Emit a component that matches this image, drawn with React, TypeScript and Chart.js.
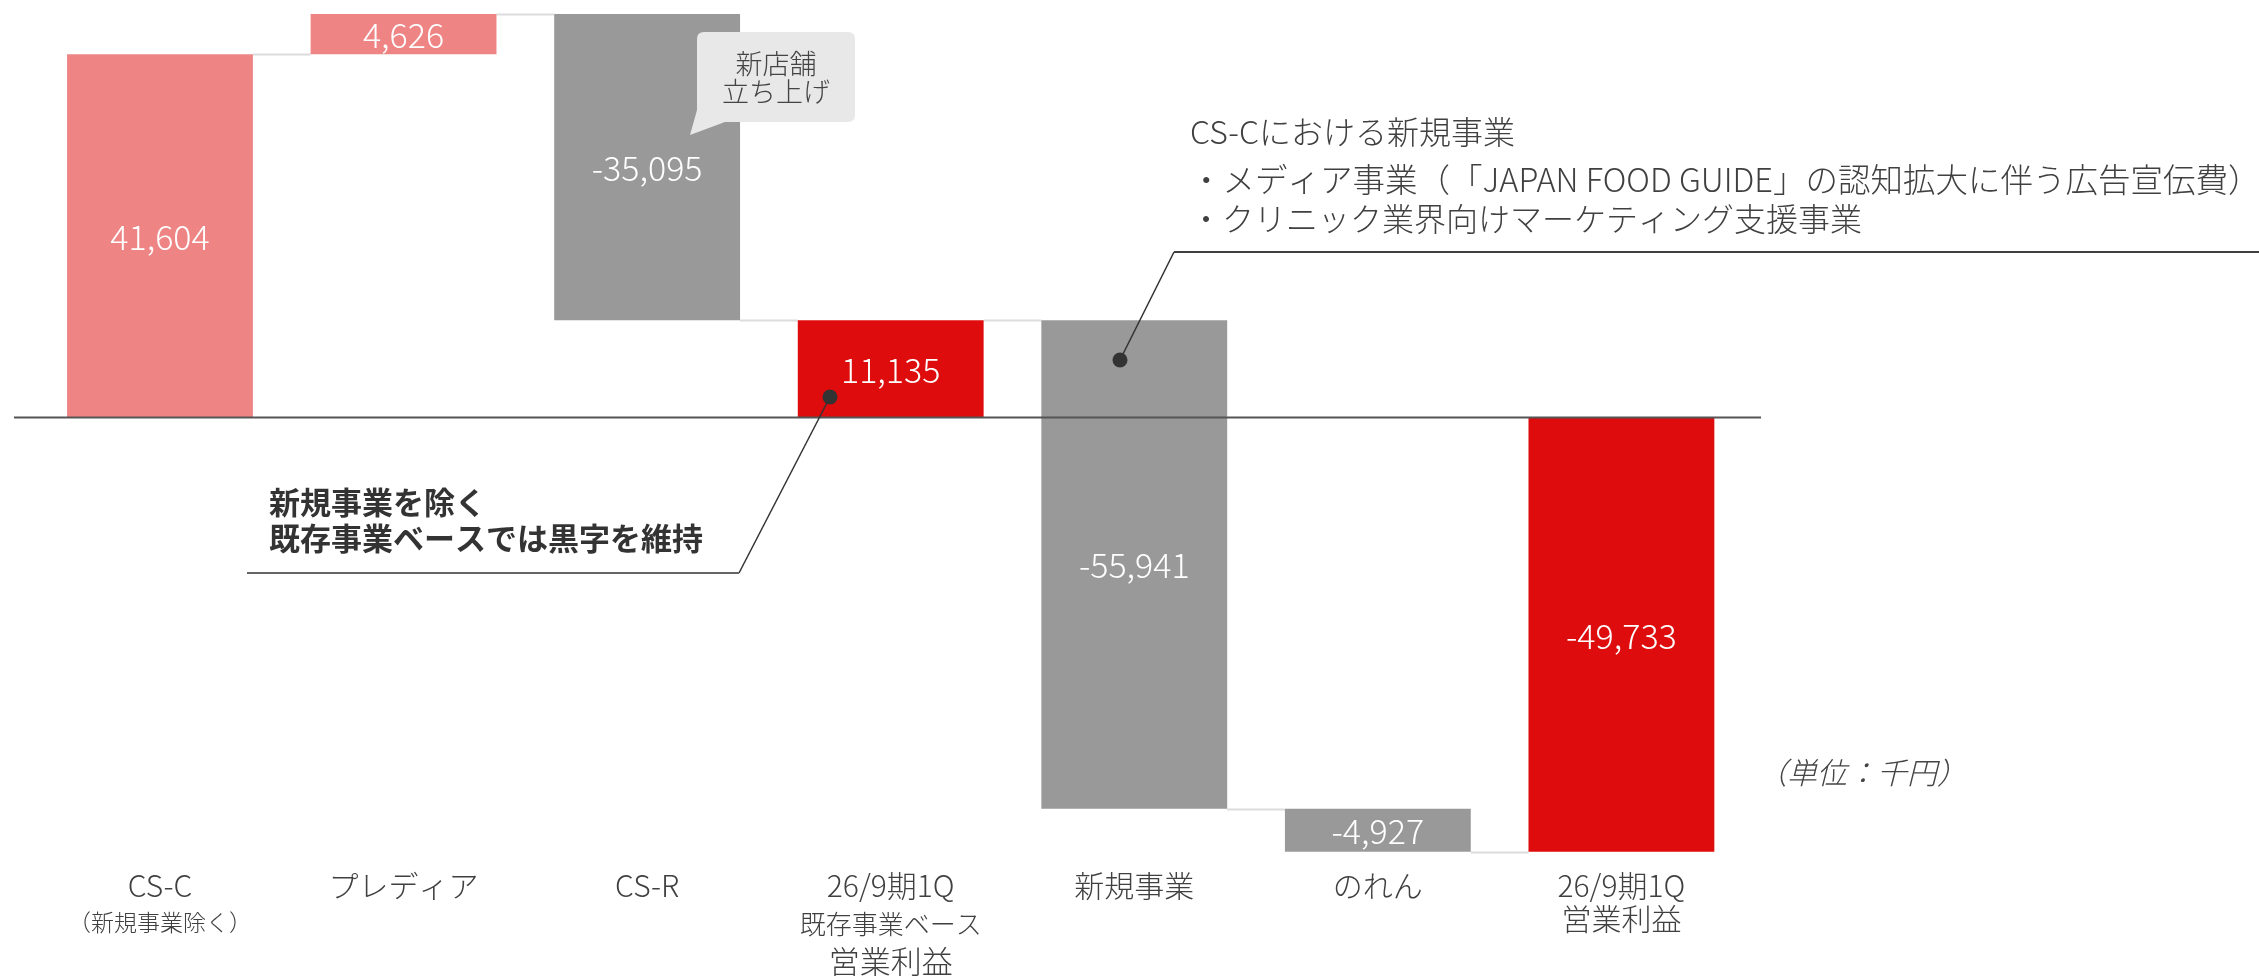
import React, { useEffect, useRef } from "react";
import { Chart, registerables } from "chart.js";

Chart.register(...registerables);

// ---- data ----
const categoryLabels: string[][] = [
  ["CS-C", "（新規事業除く）"],
  ["プレディア"],
  ["CS-R"],
  ["26/9期1Q", "既存事業ベース", "営業利益"],
  ["新規事業"],
  ["のれん"],
  ["26/9期1Q", "営業利益"],
];
const deltas = [41604, 4626, -35095, 11135, -55941, -4927, -49733];
const isTotal = [false, false, false, true, false, false, true];
const barColors = ["#EE8484", "#EE8484", "#999999", "#DE0C0C", "#999999", "#999999", "#DE0C0C"];

const calloutLines = ["新店舗", "立ち上げ"];
const noteLines = [
  "CS-Cにおける新規事業",
  "・メディア事業（「JAPAN FOOD GUIDE」の認知拡大に伴う広告宣伝費）",
  "・クリニック業界向けマーケティング支援事業",
];
const boldNoteLines = ["新規事業を除く", "既存事業ベースでは黒字を維持"];
const unitLabel = "（単位：千円）";

const Y_MIN = -50000;
const Y_MAX = 47000;

const FONT = "'Noto Sans CJK JP', 'Noto Sans', sans-serif";

// keep full-width brackets at full width (avoid bracket trimming)
const untrim = (s: string) => s.replace(/([（「])/g, "\u200B$1");

// floating ranges built from the deltas
const ranges: [number, number][] = (() => {
  let run = 0;
  return deltas.map((d, i) => {
    if (isTotal[i]) {
      run = d;
      return [0, d] as [number, number];
    }
    const s = run;
    run += d;
    return [s, run] as [number, number];
  });
})();

const decorPlugin = {
  id: "decor",
  beforeDatasetsDraw(chart: any) {
    const ctx = chart.ctx;
    const y = chart.scales.y;
    const meta = chart.getDatasetMeta(0);
    ctx.save();
    ctx.strokeStyle = "#DCDCDC";
    ctx.lineWidth = 2;
    for (let i = 0; i < meta.data.length - 1; i++) {
      const a = meta.data[i];
      const b = meta.data[i + 1];
      const yy = Math.round(y.getPixelForValue(ranges[i][1])) + 0.5;
      ctx.beginPath();
      ctx.moveTo(a.x + a.width / 2, yy);
      ctx.lineTo(b.x - b.width / 2, yy);
      ctx.stroke();
    }
    ctx.restore();
  },
  afterDatasetsDraw(chart: any) {
    const ctx = chart.ctx;
    const xs = chart.scales.x;
    const ys = chart.scales.y;
    const meta = chart.getDatasetMeta(0);
    ctx.save();

    // zero line
    const y0 = ys.getPixelForValue(0);
    ctx.strokeStyle = "#555555";
    ctx.lineWidth = 2;
    ctx.beginPath();
    ctx.moveTo(14, y0);
    ctx.lineTo(1761, y0);
    ctx.stroke();

    // value labels
    ctx.fillStyle = "#FFFFFF";
    ctx.textAlign = "center";
    ctx.textBaseline = "middle";
    ctx.font = `300 34px ${FONT}`;
    meta.data.forEach((el: any, i: number) => {
      const cy = (el.y + el.base) / 2;
      ctx.fillText(deltas[i].toLocaleString("en-US"), el.x, cy + 1);
    });

    // category labels
    ctx.fillStyle = "#404040";
    categoryLabels.forEach((lines, i) => {
      const cx = xs.getPixelForValue(i);
      const n = lines.length;
      lines.forEach((t, j) => {
        let size = 30;
        let yy = 886;
        if (j === 1 && n === 2) {
          if (t.startsWith("（")) {
            size = 23;
            yy = 922;
          } else {
            size = 30;
            yy = 919;
          }
        } else if (n === 3 && j === 1) {
          size = 26;
          yy = 924;
        } else if (n === 3 && j === 2) {
          size = 31;
          yy = 961;
        }
        ctx.font = `300 ${size}px ${FONT}`;
        ctx.fillText(untrim(t), cx, yy);
      });
    });

    // callout bubble
    ctx.fillStyle = "#E8E8E8";
    const bx = 697, by = 32, bw = 158, bh = 90, r = 7;
    ctx.beginPath();
    ctx.moveTo(bx + r, by);
    ctx.lineTo(bx + bw - r, by);
    ctx.quadraticCurveTo(bx + bw, by, bx + bw, by + r);
    ctx.lineTo(bx + bw, by + bh - r);
    ctx.quadraticCurveTo(bx + bw, by + bh, bx + bw - r, by + bh);
    ctx.lineTo(bx + 28, by + bh);
    ctx.lineTo(bx - 7, by + bh + 13);
    ctx.lineTo(bx, by + bh - 12);
    ctx.lineTo(bx, by + r);
    ctx.quadraticCurveTo(bx, by, bx + r, by);
    ctx.closePath();
    ctx.fill();
    ctx.fillStyle = "#444444";
    ctx.font = `300 27px ${FONT}`;
    ctx.textAlign = "center";
    ctx.fillText(calloutLines[0], 776, 64);
    ctx.fillText(calloutLines[1], 776, 92);

    // right note: leader line + text
    ctx.strokeStyle = "#333333";
    ctx.lineWidth = 1.5;
    ctx.beginPath();
    ctx.moveTo(1120, 360);
    ctx.lineTo(1174, 252);
    ctx.stroke();
    ctx.lineWidth = 2;
    ctx.strokeStyle = "#404040";
    ctx.beginPath();
    ctx.moveTo(1174, 252);
    ctx.lineTo(2259, 252);
    ctx.stroke();
    ctx.fillStyle = "#333333";
    ctx.beginPath();
    ctx.arc(1120, 360, 7.5, 0, Math.PI * 2);
    ctx.fill();

    ctx.fillStyle = "#404040";
    ctx.textAlign = "left";
    ctx.font = `300 32px ${FONT}`;
    ctx.fillText(untrim(noteLines[0]), 1190, 132);
    ctx.font = `300 32.5px ${FONT}`;
    ctx.fillText(untrim(noteLines[1]), 1190, 180);
    ctx.font = `300 32px ${FONT}`;
    ctx.fillText(untrim(noteLines[2]), 1190, 219);

    // left note: leader line + bold text
    ctx.strokeStyle = "#333333";
    ctx.lineWidth = 1.5;
    ctx.beginPath();
    ctx.moveTo(830, 397);
    ctx.lineTo(739, 573);
    ctx.stroke();
    ctx.strokeStyle = "#666666";
    ctx.lineWidth = 2;
    ctx.beginPath();
    ctx.moveTo(739, 573);
    ctx.lineTo(247, 573);
    ctx.stroke();
    ctx.fillStyle = "#333333";
    ctx.beginPath();
    ctx.arc(830, 397, 7.5, 0, Math.PI * 2);
    ctx.fill();

    ctx.fillStyle = "#333333";
    ctx.font = `bold 31px ${FONT}`;
    ctx.fillText(boldNoteLines[0], 269, 502);
    ctx.fillText(boldNoteLines[1], 269, 538);

    // unit label
    ctx.fillStyle = "#444444";
    ctx.textAlign = "center";
    ctx.font = `italic 300 30px ${FONT}`;
    ctx.fillText(untrim(unitLabel), 1862, 773);

    ctx.restore();
  },
};

export default function App() {
  const ref = useRef<HTMLCanvasElement | null>(null);
  useEffect(() => {
    if (!ref.current) return;
    const chart = new Chart(ref.current, {
      type: "bar",
      data: {
        labels: categoryLabels.map((l) => l.join(" ")),
        datasets: [
          {
            data: ranges as any,
            backgroundColor: barColors,
            borderWidth: 0,
            borderSkipped: false,
            barPercentage: 0.763,
            categoryPercentage: 1,
          },
        ],
      },
      options: {
        animation: false,
        responsive: false,
        devicePixelRatio: 1,
        layout: { padding: { left: 38.2, right: 515.8, top: 7.2, bottom: 122 } },
        scales: {
          x: { display: false },
          y: { display: false, min: Y_MIN, max: Y_MAX },
        },
        plugins: {
          legend: { display: false },
          tooltip: { enabled: false },
        },
      },
      plugins: [decorPlugin],
    });
    return () => chart.destroy();
  }, []);
  return (
    <div style={{ position: "fixed", left: 0, top: 0, width: 2259, height: 976, background: "#fff" }}>
      <canvas
        ref={ref}
        width={2259}
        height={976}
        style={{ display: "block", width: 2259, height: 976, ["textSpacingTrim" as any]: "space-all" }}
      />
    </div>
  );
}
